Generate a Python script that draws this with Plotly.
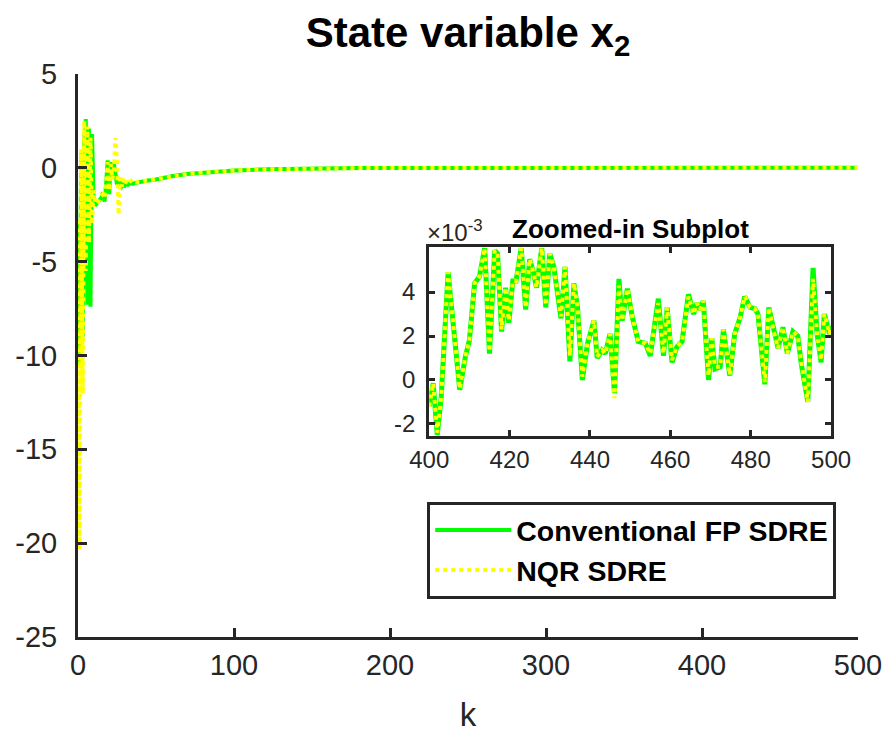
import plotly.graph_objects as go

# ---------------- data ----------------
k_early = list(range(0, 41))
conv_early = [-2.8, -10.5, 0.8, -9.0, 1.5, 2.6, -7.3, 2.1, -7.4, 1.8,
              -1.6, -2.0, -1.9, -1.8, -1.7, -1.6, -1.3, -1.8, -0.9, 0.4,
              -1.4, 0.3, -0.5, 0.2, -0.3, -0.9, -0.6, -0.8, -1.0, -0.9,
              -0.95, -0.85, -0.9, -0.85, -0.8, -0.85, -0.8, -0.8, -0.78, -0.76,
              -0.74]
nqr_early = [-2.8, -20.3, 1.0, -12.0, 2.5, -5.5, 2.2, -4.0, 1.6, -3.0,
             -1.2, -1.9, -1.9, -1.8, -1.6, -1.5, -1.4, -1.6, -1.0, 0.3,
             -1.2, 0.2, -0.6, -0.2, 1.6, 0.3, -2.5, -0.4, -1.0, -0.6,
             -0.9, -0.7, -0.85, -0.75, -0.7, -0.8, -0.75, -0.78, -0.76, -0.75,
             -0.73]

k_mid = [45, 50, 55, 60, 70, 80, 90, 100, 120, 140, 160, 180, 200, 250, 300, 350, 399]
conv_mid = [-0.68, -0.62, -0.53, -0.45, -0.33, -0.25, -0.19, -0.14, -0.08, -0.045,
            -0.025, -0.014, -0.008, -0.002, 0.0, 0.001, 0.001]
nqr_mid = [-0.67, -0.61, -0.53, -0.45, -0.33, -0.25, -0.19, -0.14, -0.08, -0.045,
           -0.025, -0.014, -0.008, -0.002, 0.0, 0.001, 0.001]

# zoomed window values (x 1e-3)
k_zoom = [400, 401, 402, 403, 404.7, 407.6, 409, 410, 411.3, 412.5,
          413.8, 415, 416.3, 417, 418, 419, 419.8, 420.8, 421.6, 422.9,
          424, 425, 426, 426.7, 428, 429, 430, 431, 432.8, 433.8,
          435, 436, 436.9, 438.1, 439.4, 441, 441.8, 443, 443.8, 445,
          446.1, 447.2, 448, 449.3, 450.5, 452, 453.8, 455, 457, 458.3,
          459.2, 460.4, 461.6, 462.9, 464.5, 465.8, 466.6, 467.4, 468.2, 469.5,
          470.3, 471.1, 472.4, 473.2, 474.8, 476, 477.3, 478.5, 479.8, 481,
          481.8, 483.5, 484.5, 485.6, 486.8, 488, 489.1, 490.5, 491.7, 492.6,
          494.2, 495.5, 496.5, 497.5, 498.3, 499.6, 500]
nqr_zoom = [-1.2, -0.15, -2.4, -0.75, 4.9, -0.4, 1.06, 1.8, 4.4, 4.7,
            6.0, 1.3, 5.9, 5.75, 2.3, 4.2, 2.7, 4.5, 4.5, 6.0,
            3.3, 5.5, 4.85, 4.2, 6.0, 3.4, 5.75, 5.15, 2.9, 5.15,
            1.1, 4.4, 3.3, 0.15, 1.67, 2.7, 1.06, 1.36, 1.2, 2.1,
            -0.83, 4.3, 2.7, 4.15, 2.9, 1.75, 1.67, 1.2, 3.5, 1.2,
            3.3, 0.9, 1.5, 1.75, 3.8, 3.0, 3.5, 3.2, 3.6, 0.2,
            1.9, 0.6, 0.6, 2.3, 0.23, 2.1, 2.8, 3.8, 3.3, 3.25,
            3.0, -0.1, 3.3, 2.3, 1.45, 2.4, 1.2, 2.2, 2.0, 0.76,
            -1.0, 4.6, 2.1, 0.9, 3.0, 2.1, 2.5]
conv_zoom = [-1.2, -0.15, -2.5, -0.75, 4.9, -0.45, 1.06, 1.8, 4.4, 4.7,
             6.0, 1.2, 5.9, 5.75, 2.2, 4.2, 2.6, 4.5, 4.5, 6.0,
             3.2, 5.5, 4.85, 4.2, 6.0, 3.3, 5.75, 5.15, 2.8, 5.15,
             0.85, 4.4, 3.3, 0.0, 1.67, 2.7, 1.0, 1.36, 1.2, 2.1,
             -0.6, 4.6, 2.7, 4.15, 2.9, 1.75, 1.67, 1.1, 3.7, 1.1,
             3.3, 0.8, 1.5, 1.75, 3.9, 3.0, 3.5, 3.2, 3.6, 0.0,
             1.9, 0.5, 0.6, 2.3, 0.2, 2.1, 2.8, 3.8, 3.3, 3.25,
             3.0, -0.2, 3.3, 2.3, 1.45, 2.4, 1.2, 2.2, 2.0, 0.7,
             -1.0, 5.1, 2.1, 0.8, 3.0, 2.1, 2.5]

main_xticks = [0, 100, 200, 300, 400, 500]
main_yticks = [-25, -20, -15, -10, -5, 0, 5]
zoom_xticks = [400, 420, 440, 460, 480, 500]
zoom_yticks = [-2, 0, 2, 4]
zoom_scale = 1e-3

names = ["Conventional FP SDRE", "NQR SDRE"]

# ---------------- build ----------------
k_main = k_early + k_mid + k_zoom
conv_main = conv_early + conv_mid + [v * zoom_scale for v in conv_zoom]
nqr_main = nqr_early + nqr_mid + [v * zoom_scale for v in nqr_zoom]

GREEN = "#00ff00"
YELLOW = "#ffff00"
AX = "#262626"
FONT = "Liberation Sans, Arial, Helvetica, sans-serif"

fig = go.Figure()
fig.add_trace(go.Scatter(x=k_main, y=conv_main, mode="lines", name="<b>" + names[0] + "</b>",
                         line=dict(color=GREEN, width=4), xaxis="x", yaxis="y"))
fig.add_trace(go.Scatter(x=k_main, y=nqr_main, mode="lines", name="<b>" + names[1] + "</b>",
                         line=dict(color=YELLOW, width=4, dash="dot"), xaxis="x", yaxis="y"))
fig.add_trace(go.Scatter(x=k_zoom, y=[v * zoom_scale for v in conv_zoom], mode="lines",
                         line=dict(color=GREEN, width=5), showlegend=False, xaxis="x2", yaxis="y2"))
fig.add_trace(go.Scatter(x=k_zoom, y=[v * zoom_scale for v in nqr_zoom], mode="lines",
                         line=dict(color=YELLOW, width=4, dash="dot"), showlegend=False,
                         xaxis="x2", yaxis="y2"))

L, R, T, B = 78, 32, 74, 107
W, H = 894, 744
pw, ph = W - L - R, H - T - B


def px_x(p):
    return (p - L) / pw


def px_y(p):
    return (H - B - p) / ph


common = dict(showline=True, linecolor=AX, linewidth=3, ticks="inside", tickcolor=AX,
              showgrid=False, zeroline=False)

fig.update_layout(
    width=W, height=H,
    margin=dict(l=L, r=R, t=T, b=B),
    paper_bgcolor="white", plot_bgcolor="white",
    font=dict(family=FONT, color=AX),
    title=dict(text="<b>State variable x<sub>2</sub></b>", x=0.5, xref="paper", xanchor="center",
               y=1 - 32 / H, yref="container", yanchor="middle",
               font=dict(size=42, color="black", family=FONT)),
    xaxis=dict(domain=[0, 1], range=[0, 500], tickvals=main_xticks,
               ticktext=[str(v) for v in main_xticks], ticklen=9, tickwidth=2.5,
               tickfont=dict(size=29), title=dict(text="k", font=dict(size=33), standoff=24),
               mirror=False, **common),
    yaxis=dict(domain=[0, 1], range=[-25, 5], tickvals=main_yticks,
               ticktext=[str(v) for v in main_yticks], ticklen=9, tickwidth=2.5,
               tickfont=dict(size=29), ticklabelstandoff=12, mirror=False, **common),
    xaxis2=dict(domain=[px_x(431), px_x(835)], anchor="y2", range=[400, 500],
                tickvals=zoom_xticks, ticktext=[str(v) for v in zoom_xticks],
                ticklen=6, tickwidth=3, tickfont=dict(size=24),
                mirror="ticks", **common),
    yaxis2=dict(domain=[px_y(436), px_y(247)], anchor="x2", range=[-2.55e-3, 6.05e-3],
                tickvals=[v * zoom_scale for v in zoom_yticks],
                ticktext=[str(v) for v in zoom_yticks], ticklen=6, tickwidth=3,
                tickfont=dict(size=24), ticklabelstandoff=6, mirror="ticks", **common),
    legend=dict(x=px_x(429), y=px_y(502), xanchor="left", yanchor="top",
                bgcolor="white", bordercolor=AX, borderwidth=3,
                font=dict(size=28.5, color="black", family=FONT), itemwidth=76,
                tracegroupgap=0),
    annotations=[
        dict(text="<b>Zoomed-in Subplot</b>", xref="paper", yref="paper",
             x=px_x(633), y=px_y(229), xanchor="center", yanchor="middle",
             showarrow=False, font=dict(size=26, color="black", family=FONT)),
        dict(text="×10<sup>-3</sup>", xref="paper", yref="paper",
             x=px_x(427), y=px_y(231), xanchor="left", yanchor="middle",
             showarrow=False, font=dict(size=24, color=AX, family=FONT)),
    ],
)

fig.write_html("out.html")
